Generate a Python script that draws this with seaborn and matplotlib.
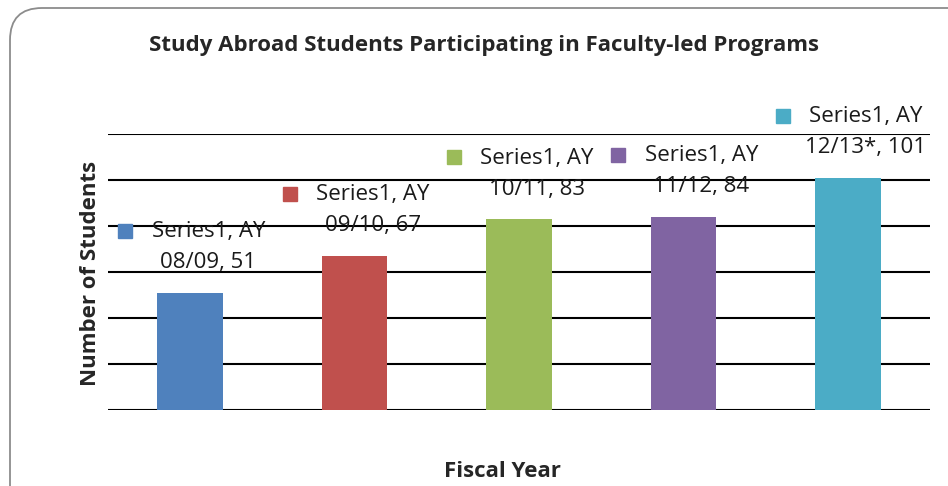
import matplotlib
matplotlib.use("Agg")
import matplotlib.pyplot as plt
import matplotlib.transforms as mtrans
import seaborn as sns
import pandas as pd
from matplotlib.patches import FancyBboxPatch

# data
years = ["AY 08/09", "AY 09/10", "AY 10/11", "AY 11/12", "AY 12/13*"]
students = [51, 67, 83, 84, 101]
colors = ["#4F81BD", "#C0504D", "#9BBB59", "#8064A2", "#4BACC6"]
series_name = "Series1"

df = pd.DataFrame({"year": years, "students": students})

sns.set_style("white")
plt.rcParams["font.family"] = ["Open Sans", "DejaVu Sans"]

fig = plt.figure(figsize=(9.48, 4.86), dpi=100)
W, H = 948, 486

# rounded chart frame (pixel coords, runs off the right and bottom edges)
frame = FancyBboxPatch((10, H - 540), 990, 532,
                       boxstyle="round,pad=0,rounding_size=32",
                       transform=mtrans.IdentityTransform(), facecolor="none",
                       edgecolor="#8c8c8c", linewidth=1.3, zorder=0)
fig.patches.append(frame)

ax = fig.add_axes([108 / W, 1 - 410 / H, (930 - 108) / W, (410 - 134) / H])
ax.patch.set_alpha(0)

sns.barplot(data=df, x="year", y="students", hue="year", palette=colors,
            width=0.4, legend=False, ax=ax, saturation=1, linewidth=0,
            zorder=3)

ax.set_xlim(-0.5, len(years) - 0.5)
ax.set_ylim(0, 120)
ax.set_yticks(range(0, 121, 20))
ax.yaxis.grid(True, color="black", linewidth=1.5, zorder=1)
ax.set_axisbelow(True)
ax.tick_params(left=False, bottom=False, labelleft=False, labelbottom=False)
sns.despine(ax=ax, left=True, bottom=True, top=True, right=True)
ax.set_xlabel("")
ax.set_ylabel("")


def px(dx, dy):
    # shift in screen pixels (dpi 100)
    return ax.transData + mtrans.ScaledTranslation(dx / 100, dy / 100,
                                                   fig.dpi_scale_trans)


# data labels with legend keys
for i, (yr, v, c) in enumerate(zip(years, students, colors)):
    ay, term = yr.split(" ")
    ax.text(i, v, f"{series_name}, {ay}", transform=px(18, 61),
            ha="center", va="center", fontsize=16, color="#1a1a1a",
            zorder=5, clip_on=False)
    ax.text(i, v, f"{term}, {v}", transform=px(18, 30),
            ha="center", va="center", fontsize=16, color="#1a1a1a",
            zorder=5, clip_on=False)
    ax.plot([i], [v], marker="s", markersize=10, color=c, linestyle="none",
            transform=px(-65, 62), clip_on=False, zorder=5)

fig.text(484 / W, 1 - 45 / H,
         "Study Abroad Students Participating in Faculty-led Programs",
         ha="center", va="center", fontsize=16, fontweight="bold")
fig.text(90 / W, 1 - 273 / H, "Number of Students", rotation=90,
         ha="center", va="center", fontsize=16, fontweight="bold")
fig.text(502 / W, 1 - 471 / H, "Fiscal Year", ha="center", va="center",
         fontsize=16, fontweight="bold")

fig.savefig("out.png", dpi=100)
